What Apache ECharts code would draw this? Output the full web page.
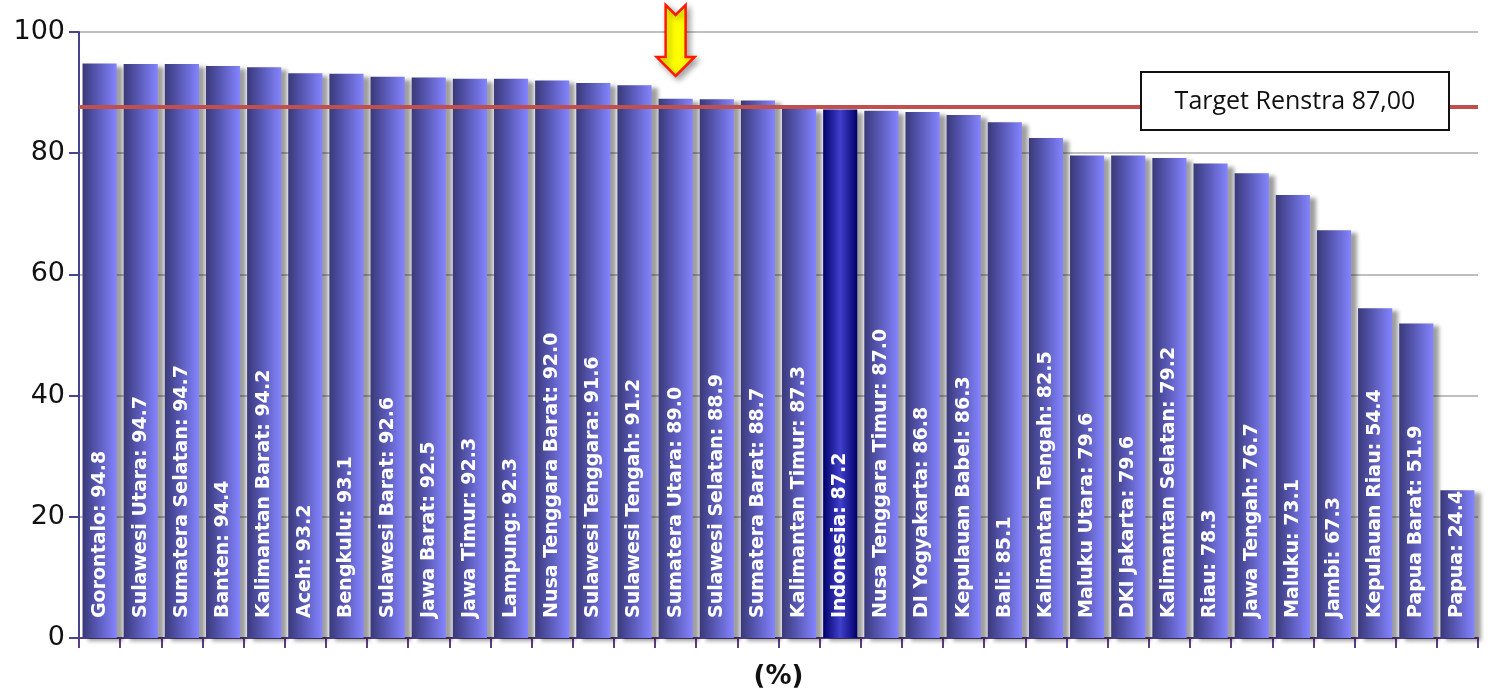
<!DOCTYPE html>
<html>
<head>
<meta charset="utf-8">
<script src="https://cdn.jsdelivr.net/npm/echarts@6/dist/echarts.min.js"></script>
<style>
  html, body { margin: 0; padding: 0; background: #fff; }
  #chart { width: 1488px; height: 690px; }
</style>
</head>
<body>
<div id="chart"></div>
<script>
const provinces = [
  "Gorontalo", "Sulawesi Utara", "Sumatera Selatan", "Banten", "Kalimantan Barat",
  "Aceh", "Bengkulu", "Sulawesi Barat", "Jawa Barat", "Jawa Timur", "Lampung",
  "Nusa Tenggara Barat", "Sulawesi Tenggara", "Sulawesi Tengah", "Sumatera Utara",
  "Sulawesi Selatan", "Sumatera Barat", "Kalimantan Timur", "Indonesia",
  "Nusa Tenggara Timur", "DI Yogyakarta", "Kepulauan Babel", "Bali",
  "Kalimantan Tengah", "Maluku Utara", "DKI Jakarta", "Kalimantan Selatan", "Riau",
  "Jawa Tengah", "Maluku", "Jambi", "Kepulauan Riau", "Papua Barat", "Papua"
];
const coverage = [
  94.8, 94.7, 94.7, 94.4, 94.2,
  93.2, 93.1, 92.6, 92.5, 92.3, 92.3,
  92.0, 91.6, 91.2, 89.0,
  88.9, 88.7, 87.3, 87.2,
  87.0, 86.8, 86.3, 85.1,
  82.5, 79.6, 79.6, 79.2, 78.3,
  76.7, 73.1, 67.3, 54.4, 51.9, 24.4
];
const yTicks = [0, 20, 40, 60, 80, 100];
const targetLine = 87.6;
const targetLabel = "Target Renstra 87,00";
const national = "Indonesia";
const arrowAt = "Sumatera Utara";

const chartInstance = echarts.init(document.getElementById("chart"));

const normalColor = new echarts.graphic.LinearGradient(0, 0, 1, 0, [
  { offset: 0, color: "#393978" },
  { offset: 0.35, color: "#5252aa" },
  { offset: 1, color: "#8484ff" }
]);
const nationalColor = new echarts.graphic.LinearGradient(0, 0, 1, 0, [
  { offset: 0, color: "#00006a" },
  { offset: 0.5, color: "#4040cc" },
  { offset: 1, color: "#00006a" }
]);

const barData = coverage.map((v, i) => ({
  value: v,
  itemStyle: { color: provinces[i] === national ? nationalColor : normalColor }
}));

const option = {
  animation: false,
  grid: { left: 79, right: 10, top: 32, bottom: 52, outerBoundsMode: "none", containLabel: false },
  xAxis: {
    type: "category",
    data: provinces,
    name: "(%)",
    nameLocation: "middle",
    nameGap: 26,
    nameTextStyle: { fontFamily: "DejaVu Sans", fontWeight: "bold", fontSize: 26, color: "#111" },
    axisLine: { lineStyle: { color: "#5a3f86", width: 2 } },
    axisTick: { show: true, interval: 0, length: 10, lineStyle: { color: "#5a3f86", width: 2 } },
    axisLabel: { show: false },
    splitLine: { show: false }
  },
  yAxis: {
    type: "value",
    min: yTicks[0],
    max: yTicks[yTicks.length - 1],
    interval: 20,
    axisLine: { show: true, lineStyle: { color: "#45458f", width: 2 } },
    axisTick: { show: true, length: 10, lineStyle: { color: "#45458f", width: 2 } },
    axisLabel: { fontFamily: "DejaVu Sans", fontSize: 27, color: "#111", margin: 14 },
    splitLine: { lineStyle: { color: "#aaaaaa", width: 1.5 } }
  },
  series: [{
    type: "bar",
    data: barData,
    barCategoryGap: "17%",
    itemStyle: {
      shadowColor: "rgba(0,0,0,0.38)",
      shadowBlur: 4,
      shadowOffsetX: 6,
      shadowOffsetY: 3
    },
    label: {
      show: true,
      position: "insideBottom",
      rotate: 90,
      align: "left",
      verticalAlign: "middle",
      distance: 20,
      fontFamily: "DejaVu Sans",
      fontWeight: "bold",
      fontSize: 19,
      color: "#ffffff",
      formatter: (p) => p.name + ": " + p.value.toFixed(1)
    },
    markLine: {
      silent: true,
      symbol: "none",
      label: { show: false },
      lineStyle: { color: "#c0504d", width: 4, type: "solid" },
      data: [{ yAxis: targetLine }]
    },
    z: 2
  }]
};
chartInstance.setOption(option);

// annotation: target box + arrow
const ax = chartInstance.convertToPixel({ xAxisIndex: 0 }, arrowAt);
chartInstance.setOption({
  graphic: [
    {
      type: "rect",
      z: 100,
      shape: { x: 1141, y: 72, width: 308, height: 58 },
      style: { fill: "#ffffff", stroke: "#111", lineWidth: 2 }
    },
    {
      type: "text",
      z: 101,
      x: 1295,
      y: 102,
      style: {
        text: targetLabel,
        fontFamily: "Open Sans",
        fontSize: 25,
        fill: "#111",
        align: "center",
        verticalAlign: "middle"
      }
    },
    {
      type: "polygon",
      z: 100,
      shape: {
        points: [
          [ax - 10, 5], [ax, 15], [ax + 10, 5], [ax + 10, 57], [ax + 19, 57],
          [ax, 76], [ax - 19, 57], [ax - 10, 57]
        ]
      },
      style: {
        fill: "#ffff00",
        stroke: "#ff1a00",
        lineWidth: 2.5,
        shadowColor: "rgba(0,0,0,0.35)",
        shadowBlur: 6,
        shadowOffsetX: 3,
        shadowOffsetY: 3
      }
    }
  ]
});
</script>
</body>
</html>
